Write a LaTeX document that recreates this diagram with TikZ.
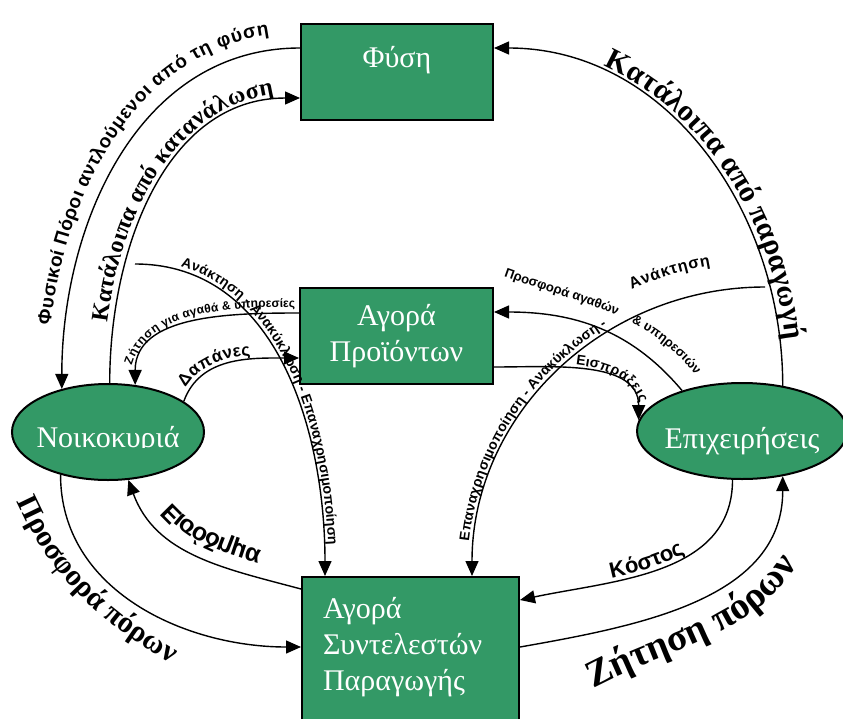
\documentclass[tikz,border=0pt]{standalone}
\usepackage{fontspec}
\setmainfont{Liberation Serif}
\setsansfont{Liberation Sans}
\usepackage{trimclip}
\usetikzlibrary{shapes.geometric, arrows.meta, decorations.text}
\definecolor{boxgreen}{HTML}{339966}
\newcommand{\sanslabel}[1]{\fontsize{#1}{#1}\selectfont\sffamily\bfseries}
\newcommand{\seriflabel}[1]{\fontsize{#1}{#1}\selectfont\rmfamily\bfseries}
\tikzstyle{market} = [rectangle, draw=black, line width=2pt, fill=boxgreen, text=white, inner sep=0pt, font=\fontsize{30}{36}\selectfont]
\tikzstyle{agent} = [ellipse, draw=black, line width=2pt, fill=boxgreen, text=white, inner sep=0pt, minimum height=96pt, text depth=0pt, font=\fontsize{30}{36}\selectfont]
\tikzstyle{arrow} = [line width=1.4pt, ->, >={Triangle[length=15pt, width=13pt]}]
\tikzstyle{along} = [postaction={decorate}]

\begin{document}
\begin{tikzpicture}[x=1pt, y=-1pt]
        \useasboundingbox (0,0) rectangle (843,718);
        \node (nature) [market, minimum width=192pt, text height=43pt, text depth=53pt] at (397,72) {Φύση} ;
        \node (products) [market, minimum width=193pt, minimum height=96pt, align=center] at (396.5,336) {Αγορά\\Προϊόντων} ;
        \node (factors) [market, anchor=north west, text width=175pt, inner xsep=21pt, align=left, text height=41pt, text depth=119pt] at (301,576) {Αγορά\\Συντελεστών\\Παραγωγής} ;
        \node (household) [agent, minimum width=192pt, text height=30pt] at (108,432) {\makebox[0pt]{\clipbox{0pt {\depth} 0pt 0pt}{Νοικοκυριά}}} ;
        \node (firms) [agent, minimum width=210pt, text height=34pt] at (742,431) {\makebox[0pt]{Επιχειρήσεις}} ;
        \coordinate (reclaimL) at (135,264) ;
        \coordinate (reclaimR) at (765,287) ;

        \draw [arrow, <-, along, decoration={text along path, text align={left indent=62pt}, raise=15pt, text={|\sanslabel{19}|Φυσικοί Πόροι αντλούμενοι από τη φύση}}] (household.137) to [out = 90, in = 180] ([yshift=24pt]nature.west) ;
        \draw [arrow, along, decoration={text along path, text align={left indent=60pt}, raise=6pt, text={|\seriflabel{24}|Κατάλοιπα από κατανάλωση}}] (household.88) to [out = 90, in = 180] ([yshift=-26pt]nature.west) ;
        \draw [arrow, along, decoration={text along path, text align={left indent=45pt}, raise=4pt, text={|\sanslabel{14}|Ανάκτηση - Ανακύκλωση - Επαναχρησιμοποίηση}}] (reclaimL) to [out = 0, in = 90] ([xshift=24pt]factors.north west) ;
        \draw [arrow, <-, along, decoration={text along path, text align={left indent=18pt}, raise=6pt, text={|\sanslabel{12}|Ζήτηση για αγαθά {\&} υπηρεσίες}}] (household.60) to [out = 90, in = 180] ([yshift=23pt]products.west) ;
        \draw [arrow, along, decoration={text along path, text align={left indent=12pt}, raise=4pt, text={|\sanslabel{17}|Δαπάνες}}] (household.22) to [out = 70, in = 180] ([yshift=-22pt]products.west) ;
        \draw [arrow, <-] ([yshift=24pt]products.east) to [out = 0, in = 130] (firms.146) ;
        \path [along, decoration={text along path, text align={left indent=1pt}, text={|\sanslabel{13}|Προσφορά αγαθών{\kern16pt}{\&} υπηρεσιών}}] ([xshift=9pt, yshift=60pt]products.east) to [out = -20, in = 125] ([xshift=23pt, yshift=3pt]firms.146) ;
        \draw [arrow, along, decoration={text along path, text align={right, right indent=16pt}, raise=4pt, text={|\sanslabel{14}|Εισπράξεις}}] ([yshift=-31pt]products.east) to [out = 0, in = 90] (firms.174) ;
        \draw [arrow, <-, along, decoration={text along path, text align={left indent=34pt}, raise=5pt, text={|\sanslabel{14}|Επαναχρησιμοποίηση - Ανακύκλωση -}}] ([xshift=-48pt]factors.north east) to [out = 90, in = 180] (reclaimR) ;
        \path [along, decoration={text along path, text align={right, right indent=50pt}, raise=26pt, text={|\sanslabel{16}|Ανάκτηση}}] ([xshift=-48pt]factors.north east) to [out = 90, in = 180] (reclaimR) ;
        \draw [arrow, <-, along, decoration={text along path, text align={left indent=110pt}, raise=6pt, text={|\seriflabel{30}|Κατάλοιπα από παραγωγή}}] ([yshift=24pt]nature.east) to [out = 0, in = 90] (firms.48) ;
        \draw [arrow] (household.222) to [out = -90, in = 180] ([yshift=-71pt]factors.north west) ;
        \path [along, decoration={text along path, text align=center, text={|\seriflabel{30}|Προσφορά πόρων}}] ([xshift=-50pt, yshift=-11pt]household.222) to [out = -68, in = 150] ([xshift=-116pt, yshift=-96pt]factors.north west) ;
        \draw [arrow, <-, along, decoration={text along path, text align=center, mirror, raise=-27pt, text={|\sanslabel{25}|Εισόδημα}}] (household.293) to [out = -70, in = 165] ([yshift=-13pt]factors.north west) ;
        \draw [arrow, <-, along, decoration={text along path, text align=center, raise=4pt, text={|\sanslabel{22}|Κόστος}}] ([yshift=-24pt]factors.north east) to [out = 12, in = -90] (firms.259) ;
        \draw [arrow] ([yshift=-71pt]factors.north east) to [out = 10, in = -90] (firms.312) ;
        \path [along, decoration={text along path, text align=center, text={|\seriflabel{38}|Ζήτηση πόρων}}] ([xshift=72pt, yshift=-113pt]factors.north east) to [out = 28, in = -125] ([xshift=16pt, yshift=-88pt]firms.312) ;
\end{tikzpicture}
\end{document}
